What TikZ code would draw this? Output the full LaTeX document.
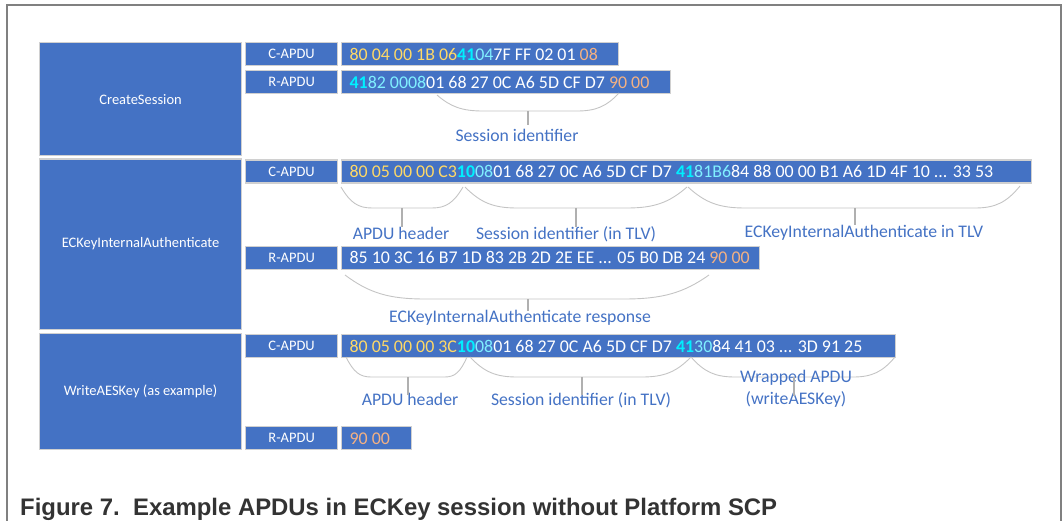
\documentclass[tikz,border=0pt]{standalone}
\usepackage{fontspec}
\setmainfont{Carlito}
\newfontfamily\capfont{Liberation Sans}
\usetikzlibrary{calc}
\definecolor{apblue}{HTML}{4472C4}
\definecolor{boxline}{HTML}{D0D0D0}
\definecolor{hgold}{HTML}{FFD966}
\definecolor{hcyan}{HTML}{00F0FF}
\definecolor{hlcyan}{HTML}{80F0FF}
\definecolor{horange}{HTML}{F4B183}
\definecolor{bracegray}{HTML}{C4C4C4}
\definecolor{stubgray}{HTML}{B0B0B0}
\definecolor{framegray}{HTML}{808080}
\definecolor{capgray}{HTML}{333333}
\newcommand\hxg[1]{{\color{hgold}#1}}
\newcommand\hxb[1]{{\color{hcyan}\bfseries #1}}
\newcommand\hxl[1]{{\color{hlcyan}#1}}
\newcommand\hxo[1]{{\color{horange}#1}}
\newcommand\hexfont{\fontsize{17.9}{20}\selectfont}
\newcommand\hexline[2]{\makebox[#1][l]{#2}}
\newcommand\apbrace[7]{%
  \draw[bracel] (#1,#2) .. controls ({#1+0.3*#6},{#2+0.75*(#5-#2)}) and ({#1+0.55*#6},#5) .. ({#1+#6},#5)
    -- ({#3-#7},#5) .. controls ({#3-0.55*#7},#5) and ({#3-0.3*#7},{#4+0.75*(#5-#4)}) .. (#3,#4);}
\begin{document}
\begin{tikzpicture}[x=1pt,y=-1pt,
  bigbox/.style={draw=boxline, line width=1.2pt, fill=apblue, text=white,
    font=\fontsize{14.5}{17}\selectfont, anchor=north west, inner sep=0pt},
  kindbox/.style={draw=boxline, line width=1.2pt, fill=apblue, text=white,
    font=\fontsize{14.5}{17}\selectfont, anchor=north west, inner sep=0pt,
    minimum width=92pt, minimum height=23pt},
  hexbox/.style={draw=boxline, line width=1.2pt, fill=apblue, text=white,
    font={\hexfont}, anchor=north west, inner xsep=8pt, inner ysep=0pt,
    minimum height=23pt, text height=12pt, text depth=0pt},
  note/.style={text=apblue, font=\fontsize{17.7}{22}\selectfont, inner sep=0pt,
    text height=12.5pt, text depth=3.5pt, align=center},
  bracel/.style={draw=bracegray, line width=0.9pt},
  stub/.style={draw=stubgray, line width=1.2pt}]
\useasboundingbox (0,0) rectangle (1064,521);
% frame
\draw[framegray, line width=1.2pt] (7,521) -- (7,5) -- (1061,5) -- (1061,521);

% ---- CreateSession
\node[bigbox, minimum width=202pt, minimum height=113pt] (cs) at (39,42) {CreateSession};
\node[kindbox] (csc) at (245,42) {C-APDU};
\node[kindbox] (csr) at (245,70) {R-APDU};
\node[hexbox] (cshc) at (341,42) {\hexline{261pt}{\hxg{80 04 00 1B 06}\hxb{41}\hxl{04}7F FF 02 01 \hxo{08}}};
\node[hexbox] (cshr) at (341,70) {\hexline{313pt}{\hxb{41}\hxl{82 0008}01 68 27 0C A6 5D CF D7 \hxo{90 00}}};
\apbrace{437}{95}{619}{93}{111}{46}{42}
\node[note] (ls1) at (517,137.5) {Session identifier};
\coordinate (sb1) at (528,111);
\draw[stub] (sb1) -- ($(sb1 |- ls1.north)+(0,-4)$);

% ---- ECKeyInternalAuthenticate
\node[bigbox, minimum width=202pt, minimum height=170pt] (ek) at (39,158.5) {ECKeyInternalAuthenticate};
\node[kindbox] (ekc) at (245,159.5) {C-APDU};
\node[kindbox] (ekr) at (245,245.5) {R-APDU};
\node[hexbox] (ekhc) at (341,159.5) {\hexline{674pt}{\hxg{80 05 00 00 C3}\hxb{10}\hxl{08}01 68 27 0C A6 5D CF D7 \hxb{41}\hxl{81B6}84 88 00 00 B1 A6 1D 4F 10 ... 33 53}};
\node[hexbox] (ekhr) at (341,245.5) {\hexline{402pt}{85 10 3C 16 B7 1D 83 2B 2D 2E EE ... 05 B0 DB 24 \hxo{90 00}}};
\apbrace{341}{187}{463}{187}{208}{31}{31}
\apbrace{465}{187}{687}{187}{208}{52}{60}
\apbrace{688}{187}{1020}{186}{208}{57}{45}
\apbrace{345}{275}{709}{275}{299}{80}{85}
\node[note] (lh2) at (401,234.5) {APDU header};
\node[note] (ls2) at (566,234.5) {Session identifier (in TLV)};
\node[note] (lt2) at (864,232.5) {ECKeyInternalAuthenticate in TLV};
\node[note] (lr2) at (520,318) {ECKeyInternalAuthenticate response};
\coordinate (sb2) at (402,208);
\coordinate (sb3) at (576,208);
\coordinate (sb4) at (855,208);
\coordinate (sb5) at (528,299);
\draw[stub] (sb2) -- ($(sb2 |- lh2.north)+(0,1)$);
\draw[stub] (sb3) -- ($(sb3 |- ls2.north)+(0,1)$);
\draw[stub] (sb4) -- ($(sb4 |- lt2.north)+(0,1)$);
\draw[stub] (sb5) -- ($(sb5 |- lr2.north)+(0,1)$);

% ---- WriteAESKey
\node[bigbox, minimum width=202pt, minimum height=116pt] (wa) at (39,333) {WriteAESKey (as example)};
\node[kindbox] (wac) at (245,334) {C-APDU};
\node[kindbox] (war) at (245,426) {R-APDU};
\node[hexbox] (wahc) at (341,334) {\hexline{538pt}{\hxg{80 05 00 00 3C}\hxb{10}\hxl{08}01 68 27 0C A6 5D CF D7 \hxb{41}\hxl{30}84 41 03 ... 3D 91 25}};
\node[hexbox] (wahr) at (341,426) {\hexline{54pt}{\hxo{90 00}}};
\apbrace{346}{357}{467}{357}{377}{25}{22}
\apbrace{470}{357}{691}{357}{377}{47}{49}
\apbrace{691}{357}{895}{357}{377}{44}{42}
\node[note] (lh3) at (410,401) {APDU header};
\node[note] (ls3) at (581,401) {Session identifier (in TLV)};
\node[note] (lw3) at (796,400) {Wrapped APDU\\(writeAESKey)};
\coordinate (sb6) at (408,377);
\coordinate (sb7) at (582,377);
\coordinate (sb8) at (794,377);
\draw[stub] (sb6) -- ($(sb6 |- lh3.north)+(0,2)$);
\draw[stub] (sb7) -- ($(sb7 |- ls3.north)+(0,2)$);
\draw[stub] (sb8) -- ($(sb8 |- lw3.north)+(0,4)$);

% caption
\node[anchor=base west, inner sep=0pt, text=capgray,
  font=\capfont\bfseries\fontsize{23.9}{28}\selectfont] (cap) at (20,515)
  {Figure 7.\ \ Example APDUs in ECKey session without Platform SCP};
\end{tikzpicture}
\end{document}
